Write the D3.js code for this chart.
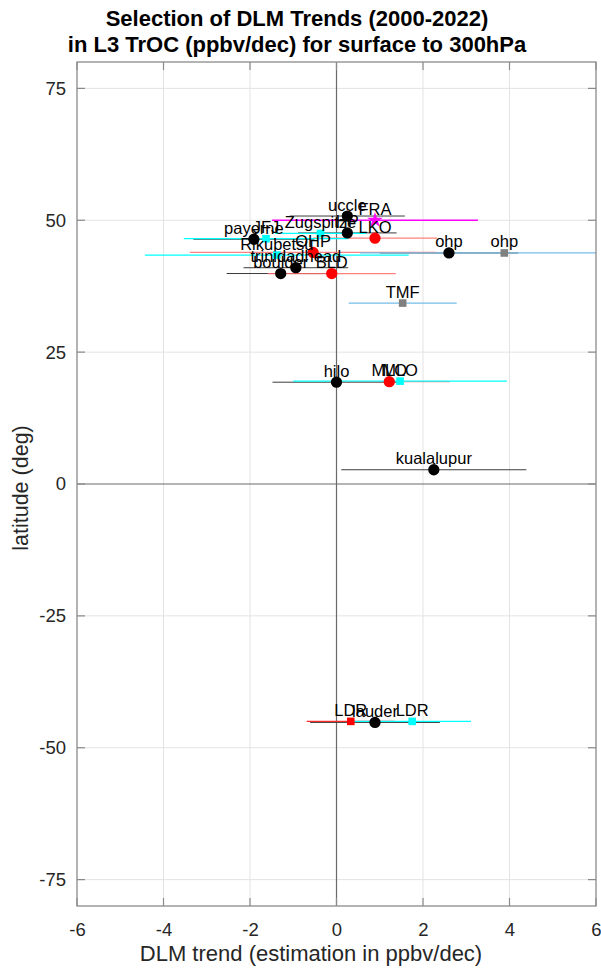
<!DOCTYPE html>
<html>
<head>
<meta charset="utf-8">
<script src="https://cdn.jsdelivr.net/npm/d3@7"></script>
<style>
  html, body { margin: 0; padding: 0; background: #fff; }
  svg { display: block; font-family: "Liberation Sans", Arial, Helvetica, sans-serif; }
</style>
</head>
<body>
<svg id="chart" width="601" height="969"></svg>
<script>
// ---- data ----
const titleLines = ["Selection of DLM Trends (2000-2022)", "in L3 TrOC (ppbv/dec) for surface to 300hPa"];
const xLabel = "DLM trend (estimation in ppbv/dec)";
const yLabel = "latitude (deg)";
const xTicks = [-6, -4, -2, 0, 2, 4, 6];
const yTicks = [-75, -50, -25, 0, 25, 50, 75];

// station groups: sonde (black circle), red circle, red square, cyan square, magenta star, gray square
const stationNames = ["uccle", "HP", "payerne", "trinidadhead", "boulder", "ohp", "hilo", "kualalupur", "lauder",
                      "LKO", "OHP", "BLD", "MLO", "LDR",
                      "Zugspitze", "JFJ", "Rikubetsu", "MLO", "LDR",
                      "FRA",
                      "ohp", "TMF"];
const stationGroup = ["sonde", "sonde", "sonde", "sonde", "sonde", "sonde", "sonde", "sonde", "sonde",
                      "redc", "redc", "redc", "redc", "reds",
                      "cyan", "cyan", "cyan", "cyan", "cyan",
                      "star",
                      "gray", "gray"];
const stationTrend = [0.25, 0.25, -1.91, -0.94, -1.29, 2.60, 0.00, 2.25, 0.89,
                      0.89, -0.54, -0.11, 1.22, 0.33,
                      -0.37, -1.63, -1.38, 1.47, 1.75,
                      0.89,
                      3.88, 1.53];
const stationErr =   [1.33, 1.14, 1.40, 1.21, 1.25, 1.60, 1.48, 2.14, 1.50,
                      1.43, 2.85, 1.48, 1.40, 1.02,
                      1.05, 1.90, 3.05, 2.47, 1.36,
                      2.38,
                      3.34, 1.25];
const stationLat =   [50.8, 47.6, 46.4, 41.0, 39.9, 43.8, 19.3, 2.7, -45.2,
                      46.6, 43.9, 39.9, 19.4, -45.0,
                      47.5, 46.5, 43.4, 19.5, -45.0,
                      50.0,
                      43.8, 34.3];

(function () {
// ---- styles ----
const lineColor = { sonde: "#3c3c3c", redc: "#ff6a6a", reds: "#ff2a2a", cyan: "#00ffff", star: "#ff00ff", gray: "#74bde8" };
const markColor = { sonde: "#000000", redc: "#ff0000", reds: "#ff0000", cyan: "#00ffff", star: "#ff00ff", gray: "#808080" };
const groupOrder = ["sonde", "redc", "reds", "cyan", "star", "gray"];

const stations = stationNames.map((n, i) => ({
  name: n, group: stationGroup[i], x: stationTrend[i], err: stationErr[i], lat: stationLat[i]
}));

const svg = d3.select("#chart");
const pL = 77, pR = 596, pT = 62, pB = 906;

const x = d3.scaleLinear().domain([-6, 6]).range([pL, pR]);
const y = d3.scaleLinear().domain([-80, 80]).range([pB, pT]);

// grid
svg.append("g").selectAll("line").data(xTicks.filter(t => t !== 0 && t !== -6 && t !== 6)).join("line")
  .attr("x1", d => x(d)).attr("x2", d => x(d)).attr("y1", pT).attr("y2", pB)
  .attr("stroke", "#e3e3e3").attr("stroke-width", 1);
svg.append("g").selectAll("line").data(yTicks.filter(t => t !== 0)).join("line")
  .attr("x1", pL).attr("x2", pR).attr("y1", d => y(d)).attr("y2", d => y(d))
  .attr("stroke", "#e3e3e3").attr("stroke-width", 1);

// zero lines
svg.append("line").attr("x1", x(0)).attr("x2", x(0)).attr("y1", pT).attr("y2", pB)
  .attr("stroke", "#6a6a6a").attr("stroke-width", 1.2);
svg.append("line").attr("x1", pL).attr("x2", pR).attr("y1", y(0)).attr("y2", y(0))
  .attr("stroke", "#6a6a6a").attr("stroke-width", 1.2);

// clip for error bars
svg.append("clipPath").attr("id", "clip").append("rect")
  .attr("x", pL).attr("y", pT).attr("width", pR - pL).attr("height", pB - pT);

const plot = svg.append("g").attr("clip-path", "url(#clip)");

// error lines
groupOrder.forEach(g => {
  plot.append("g").selectAll("line").data(stations.filter(s => s.group === g)).join("line")
    .attr("x1", d => x(d.x - d.err)).attr("x2", d => x(d.x + d.err))
    .attr("y1", d => y(d.lat)).attr("y2", d => y(d.lat))
    .attr("stroke", lineColor[g])
    .attr("stroke-width", g === "sonde" ? 1 : 1.3)
    .attr("stroke-opacity", g === "redc" ? 0.85 : 1);
});

// markers
const symbols = { sonde: d3.symbolCircle, redc: d3.symbolCircle, reds: d3.symbolSquare, cyan: d3.symbolSquare, star: d3.symbolStar, gray: d3.symbolSquare };
const sizes = { sonde: 100, redc: 100, reds: 58, cyan: 58, star: 75, gray: 58 };
groupOrder.forEach(g => {
  plot.append("g").selectAll("path").data(stations.filter(s => s.group === g)).join("path")
    .attr("transform", d => `translate(${x(d.x)},${y(d.lat)})`)
    .attr("d", d3.symbol().type(symbols[g]).size(sizes[g]))
    .attr("fill", markColor[g]);
});

// labels
svg.append("g").selectAll("text").data(stations).join("text")
  .attr("x", d => x(d.x)).attr("y", d => y(d.lat) - 5.5)
  .attr("text-anchor", "middle")
  .attr("font-size", 16.5).attr("fill", "#000")
  .text(d => d.name);

// axes box
const axisColor = "#8a8a8a";
svg.append("rect").attr("x", pL).attr("y", pT).attr("width", pR - pL).attr("height", pB - pT)
  .attr("fill", "none").attr("stroke", axisColor).attr("stroke-width", 1.3);

const tickLen = 8;
const fmt = d => String(d);
// x axis bottom & top
const xAxisB = d3.axisBottom(x).tickValues(xTicks).tickSize(0).tickPadding(0).tickFormat(fmt);
const gxb = svg.append("g").attr("transform", `translate(0,${pB})`).call(xAxisB);
gxb.select(".domain").remove();
gxb.selectAll("text").attr("font-size", 18.5).attr("fill", "#262626").attr("y", 30).attr("dy", 0)
  .attr("font-family", "Liberation Sans, Arial, sans-serif");
svg.append("g").selectAll("line").data(xTicks).join("line")
  .attr("x1", d => x(d)).attr("x2", d => x(d)).attr("y1", pB).attr("y2", pB - tickLen)
  .attr("stroke", axisColor).attr("stroke-width", 1.2);
svg.append("g").selectAll("line").data(xTicks).join("line")
  .attr("x1", d => x(d)).attr("x2", d => x(d)).attr("y1", pT).attr("y2", pT + tickLen)
  .attr("stroke", axisColor).attr("stroke-width", 1.2);

// y axis left & right
const yAxisL = d3.axisLeft(y).tickValues(yTicks).tickSize(0).tickPadding(11).tickFormat(fmt);
const gyl = svg.append("g").attr("transform", `translate(${pL},0)`).call(yAxisL);
gyl.select(".domain").remove();
gyl.selectAll("text").attr("font-size", 18.5).attr("fill", "#262626")
  .attr("font-family", "Liberation Sans, Arial, sans-serif");
svg.append("g").selectAll("line").data(yTicks).join("line")
  .attr("x1", pL).attr("x2", pL + tickLen).attr("y1", d => y(d)).attr("y2", d => y(d))
  .attr("stroke", axisColor).attr("stroke-width", 1.2);
svg.append("g").selectAll("line").data(yTicks).join("line")
  .attr("x1", pR).attr("x2", pR - tickLen).attr("y1", d => y(d)).attr("y2", d => y(d))
  .attr("stroke", axisColor).attr("stroke-width", 1.2);

// axis labels
svg.append("text").attr("x", 311).attr("y", 961).attr("text-anchor", "middle")
  .attr("font-size", 22).attr("fill", "#262626").text(xLabel);
svg.append("text").attr("transform", `translate(28,488) rotate(-90)`).attr("text-anchor", "middle")
  .attr("font-size", 21.5).attr("fill", "#262626").text(yLabel);

// title
svg.append("g").selectAll("text").data(titleLines).join("text")
  .attr("x", 297).attr("y", (d, i) => 26 + i * 25.5).attr("text-anchor", "middle")
  .attr("font-size", 22).attr("font-weight", "bold").attr("fill", "#000").text(d => d);
})();
</script>
</body>
</html>
